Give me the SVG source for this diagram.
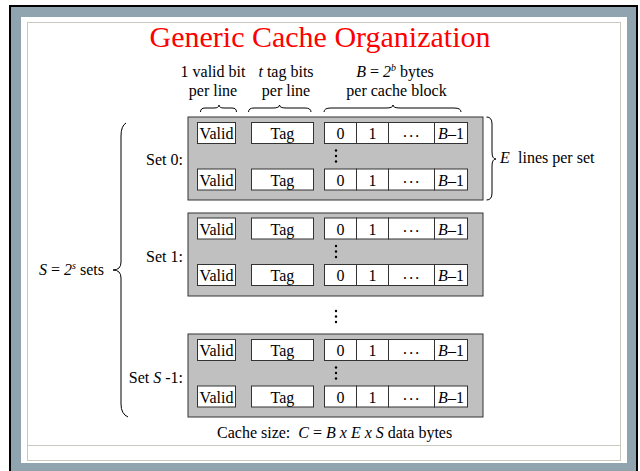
<svg xmlns="http://www.w3.org/2000/svg" xmlns:xlink="http://www.w3.org/1999/xlink" width="640" height="471" viewBox="0 0 640 471">
  <style>
    text { font-family: "Liberation Serif", "Times New Roman", serif; fill: #000; }
    .lbl { font-size: 16px; }
    .title { font-size: 30px; fill: #ff0000; }
    .it { font-style: italic; }
    .sup { font-size: 10px; font-style: italic; }
    .setbox { fill: #c0c0c0; stroke: #333; stroke-width: 1; }
    .cell { fill: #fff; stroke: #333; stroke-width: 1; }
    .ctext { font-size: 16px; text-anchor: middle; }
    .brace { fill: none; stroke: #000; stroke-width: 1; }
    .dot { fill: #000; }
  </style>
  <defs>
    <!-- one cache line: valid bit, tag, data block cells (origin = set box left, line top) -->
    <g id="cacheLine">
      <rect class="cell" x="9.5" y="0.5" width="38" height="21"/>
      <rect class="cell" x="63.5" y="0.5" width="62" height="21"/>
      <rect class="cell" x="136.5" y="0.5" width="32" height="21"/>
      <rect class="cell" x="168.5" y="0.5" width="32" height="21"/>
      <rect class="cell" x="200.5" y="0.5" width="46" height="21"/>
      <rect class="cell" x="246.5" y="0.5" width="33" height="21"/>
      <text class="ctext" x="28.5" y="17">Valid</text>
      <text class="ctext" x="94.5" y="17">Tag</text>
      <text class="ctext" x="152.5" y="17">0</text>
      <text class="ctext" x="184.5" y="17">1</text>
      <text class="ctext" x="223.5" y="19.5" letter-spacing="0.8">···</text>
      <text class="ctext" x="263" y="17"><tspan class="it">B</tspan>–1</text>
    </g>
    <!-- vertical ellipsis between lines of a set -->
    <g id="vdots">
      <circle class="dot" cx="0" cy="0" r="1.2"/>
      <circle class="dot" cx="0" cy="5.5" r="1.2"/>
      <circle class="dot" cx="0" cy="11" r="1.2"/>
    </g>
  </defs>

  <!-- slide frame -->
  <rect x="0" y="0" width="640" height="471" fill="#fff"/>
  <rect x="9" y="5" width="629" height="480" fill="#000"/>
  <rect x="11" y="7" width="625" height="480" fill="#8fa4ae"/>
  <rect x="21" y="17" width="606" height="446" fill="#fff"/>
  <rect x="27.5" y="22.5" width="593" height="438" fill="none" stroke="#c9c9c0" stroke-width="1"/>
  <line x1="27.5" y1="445.5" x2="620.5" y2="445.5" stroke="#c9c9c0" stroke-width="1"/>

  <text class="title" x="320" y="47" text-anchor="middle">Generic Cache Organization</text>

  <!-- field labels -->
  <g id="label-valid">
    <text class="lbl" x="213" y="77" text-anchor="middle">1 valid bit</text>
    <text class="lbl" x="213" y="96" text-anchor="middle">per line</text>
  </g>
  <g id="label-tag">
    <text class="lbl" x="286" y="77" text-anchor="middle"><tspan class="it">t</tspan> tag bits</text>
    <text class="lbl" x="286" y="96" text-anchor="middle">per line</text>
  </g>
  <g id="label-block">
    <text class="lbl" x="395" y="77" text-anchor="middle"><tspan class="it">B</tspan> = <tspan class="it">2</tspan><tspan class="sup" dy="-6">b</tspan><tspan dy="6"> bytes</tspan></text>
    <text class="lbl" x="396.5" y="96" text-anchor="middle">per cache block</text>
  </g>

  <!-- sets -->
  <g id="set0">
    <rect class="setbox" x="188" y="117" width="295" height="83"/>
    <use xlink:href="#cacheLine" x="188" y="122"/>
    <use xlink:href="#vdots" x="336" y="150.5"/>
    <use xlink:href="#cacheLine" x="188" y="168.5"/>
    <text class="lbl" x="183" y="165" text-anchor="end">Set 0:</text>
  </g>
  <g id="set1">
    <rect class="setbox" x="188" y="213" width="295" height="83"/>
    <use xlink:href="#cacheLine" x="188" y="217.5"/>
    <use xlink:href="#vdots" x="336" y="246"/>
    <use xlink:href="#cacheLine" x="188" y="264"/>
    <text class="lbl" x="183" y="261.5" text-anchor="end">Set 1:</text>
  </g>
  <use xlink:href="#vdots" x="336" y="311"/>
  <g id="setS1">
    <rect class="setbox" x="188" y="334" width="295" height="83"/>
    <use xlink:href="#cacheLine" x="188" y="339"/>
    <use xlink:href="#vdots" x="336" y="367.5"/>
    <use xlink:href="#cacheLine" x="188" y="385.5"/>
    <text class="lbl" x="183" y="382.5" text-anchor="end">Set <tspan class="it">S</tspan> -1:</text>
  </g>

  <!-- braces -->
  <g id="braces">
    <path class="brace" d="M200.5,112 Q200.5,108 205,108 L214,108 Q219,108 219,105 Q219,108 224,108 L232,108 Q236.5,108 236.5,112"/>
    <path class="brace" d="M248.5,112 Q248.5,108 254,108 L273,108 Q279.5,108 279.5,105 Q279.5,108 286,108 L305,108 Q311,108 311,112"/>
    <path class="brace" d="M324,112 Q324,108 331,108 L386,108 Q393,108 393,105 Q393,108 400,108 L454,108 Q461,108 461,112"/>
    <path class="brace" d="M486.5,117 Q492,117 492,124 L492,152 Q492,159 496,159 Q492,159 492,166 L492,193 Q492,200 486.5,200"/>
    <path class="brace" d="M126,123 Q121,126 121,136 L121,262 Q121,270 113,270 Q121,270 121,278 L121,404 Q121,414 128,417"/>
  </g>

  <text class="lbl" x="500" y="163"><tspan class="it">E</tspan><tspan x="518">lines per set</tspan></text>
  <text class="lbl" x="39" y="275"><tspan class="it">S</tspan> = <tspan class="it">2</tspan><tspan class="sup" dy="-6">s</tspan><tspan dy="6"> sets</tspan></text>

  <text class="lbl" x="217" y="438" xml:space="preserve">Cache size:  <tspan class="it">C</tspan> = <tspan class="it">B x E x S</tspan> data bytes</text>
</svg>
